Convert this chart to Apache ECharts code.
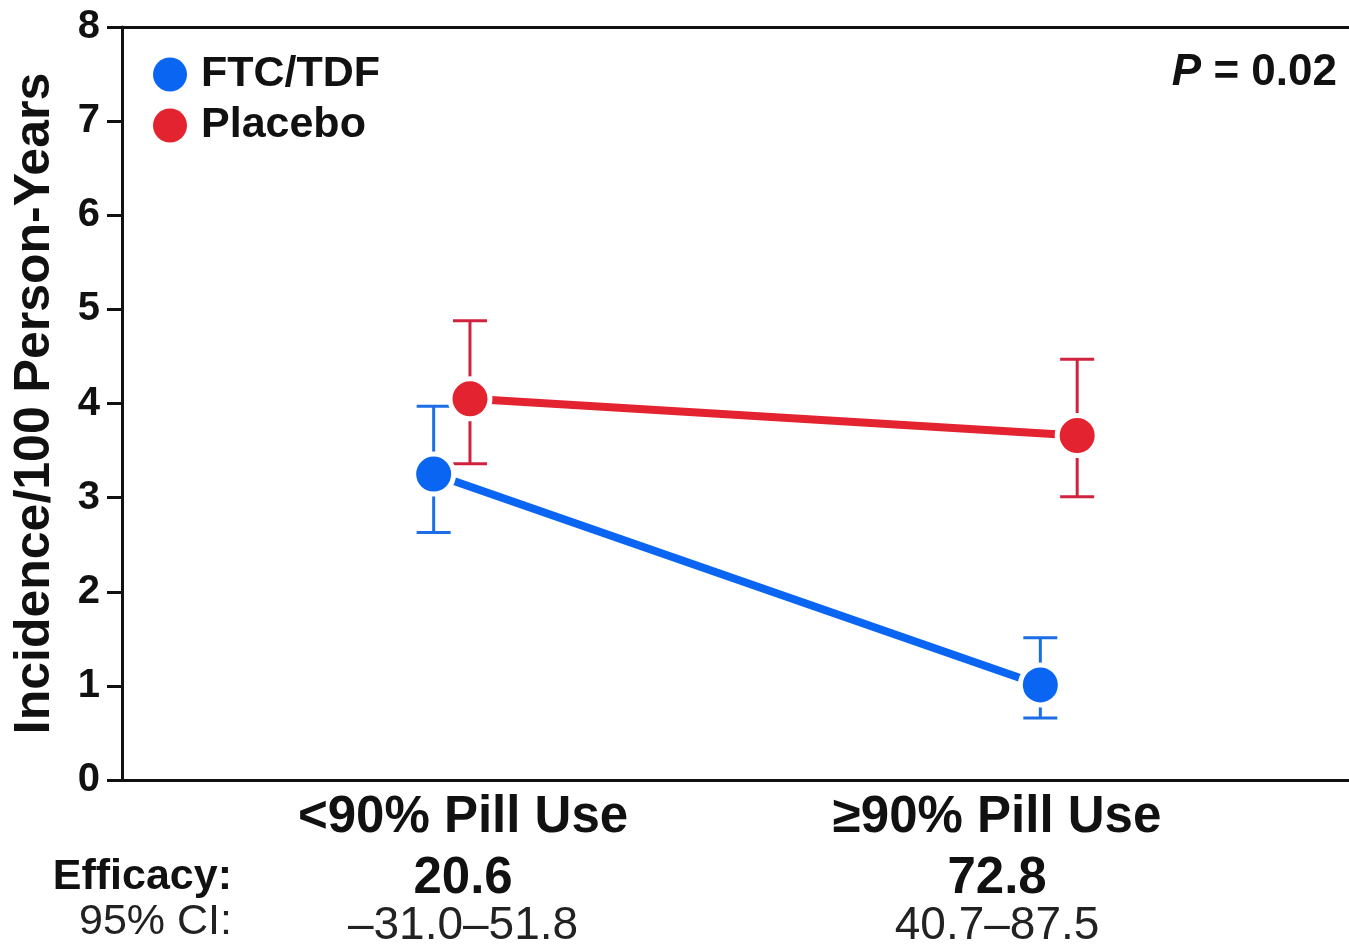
<!DOCTYPE html>
<html>
<head>
<meta charset="utf-8">
<script src="https://cdn.jsdelivr.net/npm/echarts@6/dist/echarts.min.js"></script>
<style>
html,body{margin:0;padding:0;background:#fff;}
#chart{width:1349px;height:945px;}
</style>
</head>
<body>
<div id="chart"></div>
<script>
// ---- data ----
const categories = ['<90% Pill Use', '\u226590% Pill Use'];
const efficacy = ['20.6', '72.8'];
const efficacyCI = ['\u201331.0\u201351.8', '40.7\u201387.5'];
const seriesNames = ['FTC/TDF', 'Placebo'];
// x position (category index + dodge offset) for each group
const xFTC = [-0.055, 1.081];
const xPlacebo = [0.013, 1.150];
const ftcValues = [3.25, 1.01];
const ftcLow = [2.63, 0.66];
const ftcHigh = [3.97, 1.51];
const placeboValues = [4.05, 3.66];
const placeboLow = [3.36, 3.01];
const placeboHigh = [4.88, 4.47];
const yTicks = [0, 1, 2, 3, 4, 5, 6, 7, 8];
const pValueText = '0.02';

const FONT = '"Liberation Sans", Arial, Helvetica, sans-serif';
const BLUE = '#0a66f2';
const RED = '#e3232f';
const BLUE_BAR = '#1b6ee6';
const RED_BAR = '#d0223f';

const chart = echarts.init(document.getElementById('chart'));

function errBar(color) {
  return function (params, api) {
    const x = api.value(0), lo = api.value(1), hi = api.value(2);
    const pLo = api.coord([x, lo]);
    const pHi = api.coord([x, hi]);
    const cap = 17;
    const style = { stroke: color, lineWidth: 3 };
    return {
      type: 'group',
      children: [
        { type: 'line', shape: { x1: pLo[0], y1: pLo[1], x2: pHi[0], y2: pHi[1] }, style: style },
        { type: 'line', shape: { x1: pLo[0] - cap, y1: pLo[1], x2: pLo[0] + cap, y2: pLo[1] }, style: style },
        { type: 'line', shape: { x1: pHi[0] - cap, y1: pHi[1], x2: pHi[0] + cap, y2: pHi[1] }, style: style }
      ]
    };
  };
}

const option = {
  animation: false,
  backgroundColor: '#fff',
  textStyle: { fontFamily: FONT },
  grid: { left: 122, right: 0, top: 27, bottom: 165, containLabel: false, outerBoundsMode: 'none' },
  legend: {
    orient: 'vertical',
    left: 148,
    top: 48,
    icon: 'circle',
    itemWidth: 34,
    itemHeight: 34,
    itemGap: 8,
    itemTextGap: 5,
    padding: 5,
    itemStyle: { borderWidth: 0 },
    textStyle: { fontFamily: FONT, fontSize: 43, fontWeight: 'bold', color: '#111', lineHeight: 42, padding: [0, 0, 0, 9] },
    data: seriesNames
  },
  xAxis: [{
    type: 'value',
    min: -0.6386,
    max: 1.659,
    splitLine: { show: false },
    axisLine: { show: true, onZero: false, lineStyle: { color: '#111', width: 3 } },
    axisTick: { show: false },
    axisLabel: {
      show: true,
      customValues: [0, 1],
      margin: 3,
      color: '#111',
      formatter: function (v) {
        const i = Math.round(v);
        return '{a|' + categories[i] + '}\n{b|' + efficacy[i] + '}\n{c|' + efficacyCI[i] + '}';
      },
      rich: {
        a: { fontFamily: FONT, fontSize: 51, fontWeight: 'bold', color: '#111', lineHeight: 70, align: 'center' },
        b: { fontFamily: FONT, fontSize: 51, fontWeight: 'bold', color: '#111', lineHeight: 52, align: 'center' },
        c: { fontFamily: FONT, fontSize: 46, fontWeight: 'normal', color: '#222', lineHeight: 42, align: 'center' }
      }
    }
  }, {
    type: 'value',
    position: 'top',
    min: -0.6386,
    max: 1.659,
    splitLine: { show: false },
    axisLine: { show: true, onZero: false, lineStyle: { color: '#111', width: 3 } },
    axisTick: { show: false },
    axisLabel: { show: false }
  }],
  yAxis: {
    type: 'value',
    min: yTicks[0],
    max: yTicks[yTicks.length - 1],
    interval: 1,
    splitLine: { show: false },
    axisLine: { show: true, onZero: false, lineStyle: { color: '#111', width: 3 } },
    axisTick: { show: true, inside: false, length: 15, lineStyle: { color: '#111', width: 3 } },
    axisLabel: { fontFamily: FONT, fontSize: 40, fontWeight: 'bold', color: '#111', margin: 22 },
    name: 'Incidence/100 Person-Years',
    nameLocation: 'middle',
    nameGap: 62,
    nameTextStyle: { fontFamily: FONT, fontSize: 50, fontWeight: 'bold', color: '#111' }
  },
  graphic: [
    {
      type: 'text',
      right: 12,
      top: 51,
      style: {
        text: '{i|P} = ' + pValueText,
        font: 'bold 44px ' + FONT,
        fill: '#111',
        rich: { i: { fontFamily: FONT, fontSize: 44, fontWeight: 'bold', fontStyle: 'italic', fill: '#111' } }
      }
    },
    {
      type: 'text',
      x: 232,
      y: 877,
      style: { text: 'Efficacy:', font: 'bold 43px ' + FONT, fill: '#111', align: 'right', verticalAlign: 'middle' }
    },
    {
      type: 'text',
      x: 232,
      y: 922,
      style: { text: '95% CI:', font: 'normal 43px ' + FONT, fill: '#222', align: 'right', verticalAlign: 'middle' }
    }
  ],
  series: [
    {
      name: 'FTC/TDF bars',
      type: 'custom',
      z: 1,
      renderItem: errBar(BLUE_BAR),
      data: xFTC.map((x, i) => [x, ftcLow[i], ftcHigh[i]]),
      silent: true
    },
    {
      name: 'Placebo bars',
      type: 'custom',
      z: 1,
      renderItem: errBar(RED_BAR),
      data: xPlacebo.map((x, i) => [x, placeboLow[i], placeboHigh[i]]),
      silent: true
    },
    {
      name: seriesNames[0],
      type: 'line',
      z: 3,
      data: xFTC.map((x, i) => [x, ftcValues[i]]),
      symbol: 'circle',
      symbolSize: 40,
      lineStyle: { color: BLUE, width: 8 },
      itemStyle: { color: BLUE, borderColor: '#fff', borderWidth: 5 },
      emphasis: { disabled: true }
    },
    {
      name: seriesNames[1],
      type: 'line',
      z: 3,
      data: xPlacebo.map((x, i) => [x, placeboValues[i]]),
      symbol: 'circle',
      symbolSize: 40,
      lineStyle: { color: RED, width: 8 },
      itemStyle: { color: RED, borderColor: '#fff', borderWidth: 5 },
      emphasis: { disabled: true }
    }
  ]
};
chart.setOption(option);
</script>
</body>
</html>
